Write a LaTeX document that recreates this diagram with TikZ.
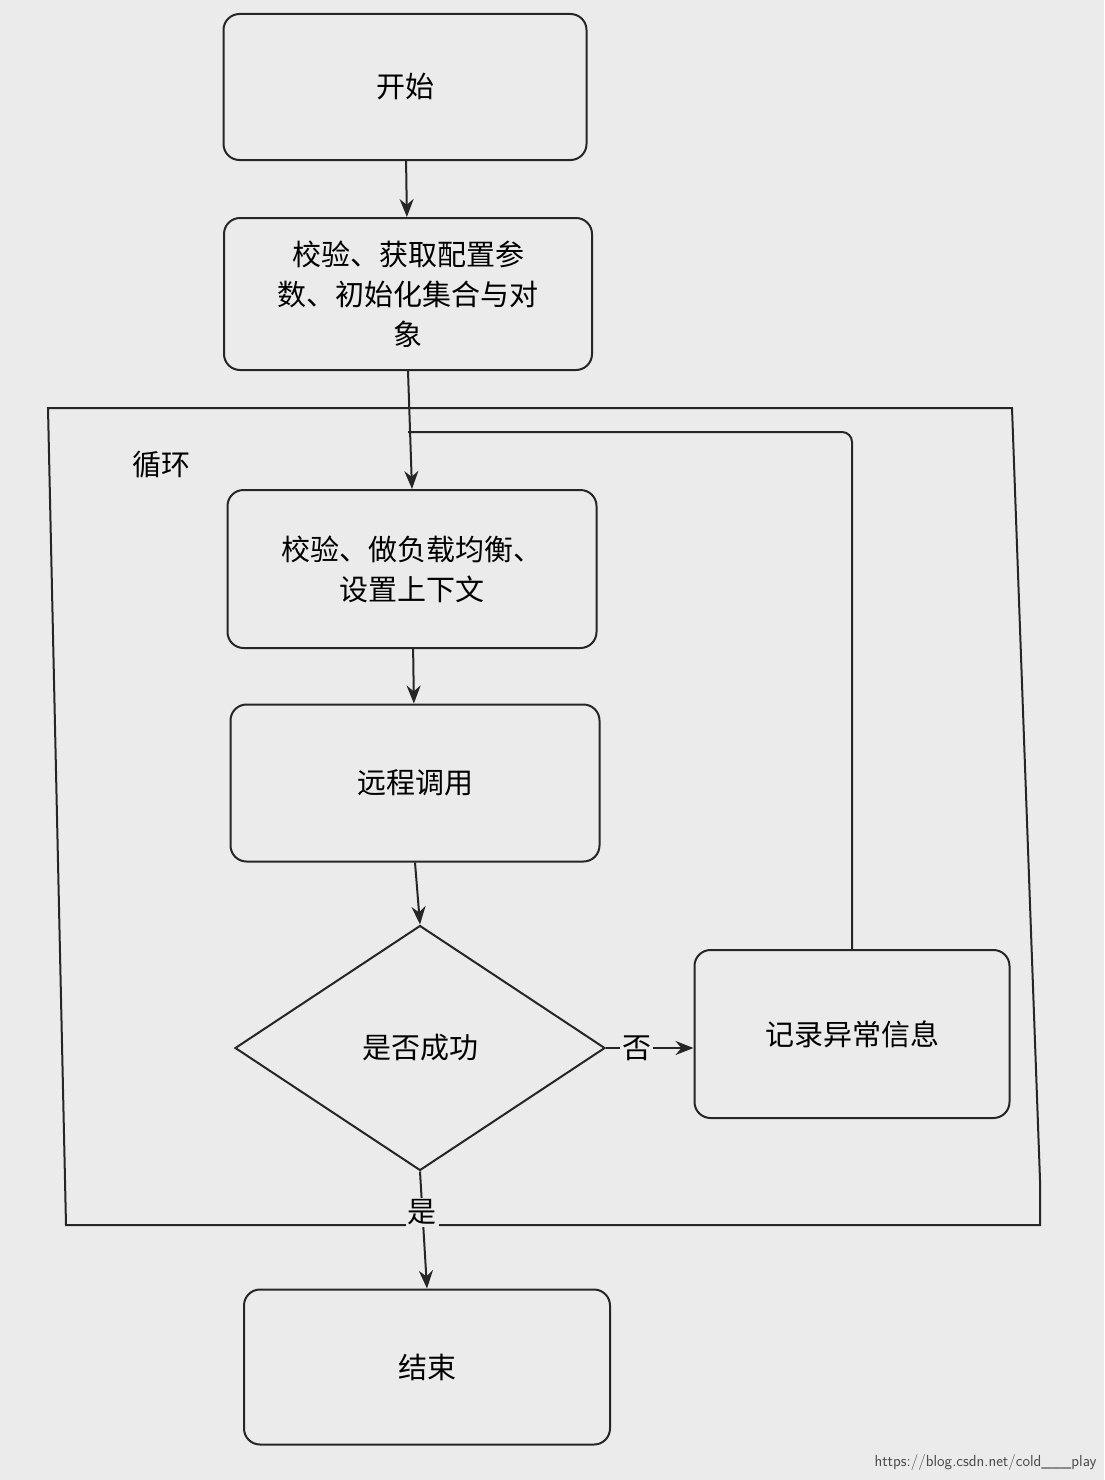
\documentclass[tikz,border=0pt]{standalone}
\usepackage{fontspec}
\newfontfamily\cjk{Noto Sans CJK SC}
\usetikzlibrary{shapes.geometric,arrows.meta}
\begin{document}
\begin{tikzpicture}[x=1pt,y=-1pt,
  ln/.style={draw=black!85,line width=2pt},
  bx/.style={ln,rounded corners=16pt,align=center,font=\cjk\fontsize{29}{40}\selectfont,inner sep=0pt},
  arr/.style={ln,-{Stealth[length=18pt,width=14pt]}},
  lbl/.style={font=\cjk\fontsize{29}{36}\selectfont,inner sep=2pt}]
\fill[black!8] (0,0) rectangle (1104,1480);
\useasboundingbox (0,0) rectangle (1104,1480);
\draw[ln] (48,408) -- (1012,408) -- (1040,1180) -- (1040,1225) -- (66,1225) -- cycle;
\node[lbl,anchor=west] (loop) at (130,465) {循环};
\node[bx,minimum width=363pt,minimum height=146pt] (start) at (405,87) {开始};
\node[bx,minimum width=368pt,minimum height=152pt] (init) at (408,294) {校验、获取配置参\\数、初始化集合与对\\象};
\node[bx,minimum width=369pt,minimum height=158pt] (lb) at (412,569) {校验、做负载均衡、\\设置上下文};
\node[bx,minimum width=369pt,minimum height=157pt] (rpc) at (415,783) {远程调用};
\node[ln,diamond,aspect=1.5,minimum width=370pt,minimum height=245pt,inner sep=0pt,font=\cjk\fontsize{29}{36}\selectfont] (dec) at (420,1048) {是否成功};
\node[bx,minimum width=315pt,minimum height=168pt] (log) at (852,1034) {记录异常信息};
\node[bx,minimum width=366pt,minimum height=155pt] (end) at (427,1367) {结束};
\coordinate (j) at (init.south |- 0,432);
\draw[arr] (start) -- (init);
\draw[arr] (init.south) -- (lb.north);
\draw[ln,rounded corners=10pt] (log.north) -- (log.north |- j) -- (j);
\draw[arr] (lb) -- (rpc);
\draw[arr] (rpc.south) -- (dec.north);
\draw[arr] (dec.east) -- node[lbl,fill=black!8,pos=0.35]{否} (log.west |- dec.east);
\draw[arr] (dec.south) -- node[lbl,fill=black!8,pos=0.35]{是} (end.north);
\node[anchor=south east,font=\sffamily\fontsize{16}{18}\selectfont,text=black!70] (wm) at (1100,1474) {https://blog.csdn.net/cold\_\_\_play};
\end{tikzpicture}
\end{document}
